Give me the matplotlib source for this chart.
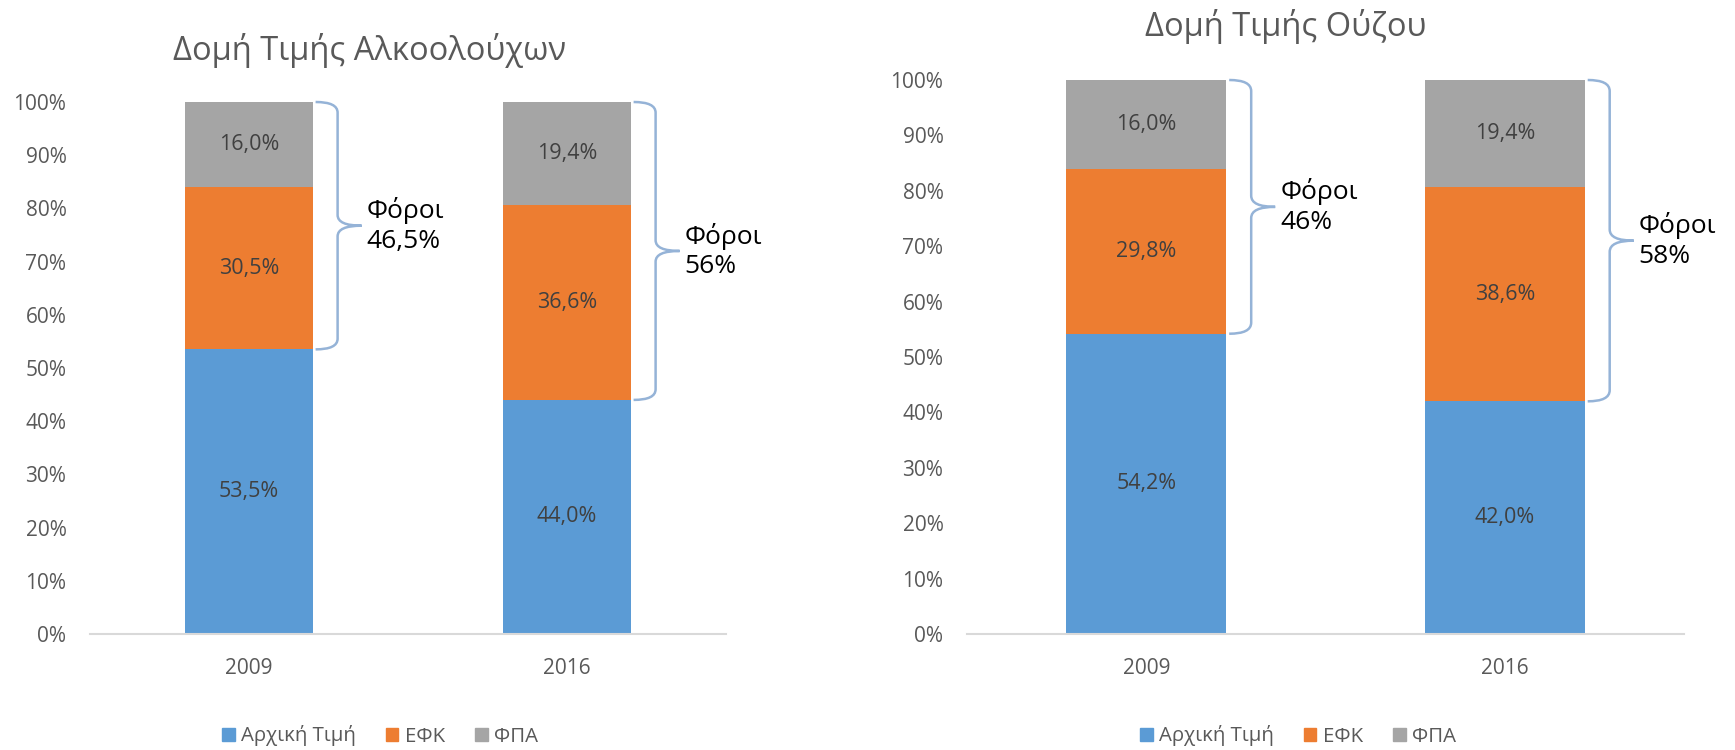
import matplotlib
matplotlib.use('Agg')
import matplotlib.pyplot as plt
from matplotlib.path import Path
from matplotlib.patches import PathPatch, Patch
from matplotlib.ticker import PercentFormatter

plt.rcParams['font.family'] = ['Open Sans', 'DejaVu Sans']

# data
years = ['2009', '2016']
series_names = ['Αρχική Τιμή', 'ΕΦΚ', 'ΦΠΑ']
colors = ['#5B9BD5', '#ED7D31', '#A5A5A5']

alc_base = [53.5, 44.0]
alc_efk = [30.5, 36.6]
alc_fpa = [16.0, 19.4]
alc_tax = ['46,5%', '56%']

ouzo_base = [54.2, 42.0]
ouzo_efk = [29.8, 38.6]
ouzo_fpa = [16.0, 19.4]
ouzo_tax = ['46%', '58%']

W, H = 1735, 750
fig = plt.figure(figsize=(W / 100, H / 100), dpi=100)

grey = '#595959'
brace_col = '#95B3D7'


def fmt(v):
    return f'{v:.1f}'.replace('.', ',') + '%'


def draw_brace(ax, xr, ytop, ybot, ppu, label):
    # xr = bar right edge in data units, ppu = pixels per x unit
    px = lambda p: p / ppu
    x0 = xr + px(3)
    x1 = x0 + px(22)
    x2 = x1 + px(24)
    ymid = (ytop + ybot) / 2
    r = 2.0
    verts = [(x0, ytop), (x1, ytop), (x1, ytop - r),
             (x1, ymid + r), (x1, ymid), (x2, ymid),
             (x1, ymid), (x1, ymid - r),
             (x1, ybot + r), (x1, ybot), (x0, ybot)]
    codes = [Path.MOVETO, Path.CURVE3, Path.CURVE3,
             Path.LINETO, Path.CURVE3, Path.CURVE3,
             Path.CURVE3, Path.CURVE3,
             Path.LINETO, Path.CURVE3, Path.CURVE3]
    ax.add_patch(PathPatch(Path(verts, codes), fill=False, ec=brace_col,
                           lw=1.8, clip_on=False))
    ax.text(x2 + px(5), ymid, 'Φόροι\n' + label, ha='left', va='center',
            fontsize=19, color='black', linespacing=1.25, clip_on=False)


def draw_chart(rect, base, efk, fpa, bar_w, taxes):
    ax = fig.add_axes(rect)
    x = range(len(years))
    ax.bar(x, base, bar_w, color=colors[0])
    ax.bar(x, efk, bar_w, bottom=base, color=colors[1])
    bottoms = [b + e for b, e in zip(base, efk)]
    ax.bar(x, fpa, bar_w, bottom=bottoms, color=colors[2])
    for i in x:
        ax.text(i, base[i] / 2, fmt(base[i]), ha='center', va='center',
                fontsize=15.5, color='#404040')
        ax.text(i, base[i] + efk[i] / 2, fmt(efk[i]), ha='center', va='center',
                fontsize=15.5, color='#404040')
        ax.text(i, bottoms[i] + fpa[i] / 2, fmt(fpa[i]), ha='center', va='center',
                fontsize=15.5, color='#404040')
    ax.set_xlim(-0.5, 1.5)
    ax.set_ylim(0, 100)
    ax.set_yticks(range(0, 101, 10))
    ax.yaxis.set_major_formatter(PercentFormatter(decimals=0))
    ax.set_xticks(list(x))
    ax.set_xticklabels(years)
    for s in ['top', 'right', 'left']:
        ax.spines[s].set_visible(False)
    ax.spines['bottom'].set_color('#D9D9D9')
    ax.spines['bottom'].set_linewidth(1.5)
    ax.tick_params(length=0, labelsize=15, labelcolor=grey)
    ax.tick_params(axis='y', pad=17)
    ax.tick_params(axis='x', pad=17)
    ppu = W * rect[2] / 2.0
    for i in x:
        draw_brace(ax, i + bar_w / 2, 100, base[i], ppu, taxes[i])
    return ax


ax1 = draw_chart([90 / W, 1 - 634 / H, 636 / W, 532 / H],
                 alc_base, alc_efk, alc_fpa, 0.40, alc_tax)
ax2 = draw_chart([967 / W, 1 - 634 / H, 717 / W, 554 / H],
                 ouzo_base, ouzo_efk, ouzo_fpa, 0.446, ouzo_tax)

fig.text(370 / W, 1 - 50 / H, 'Δομή Τιμής Αλκοολούχων', ha='center', va='center',
         fontsize=23.5, color=grey)
fig.text(1286 / W, 1 - 26 / H, 'Δομή Τιμής Ούζου', ha='center', va='center',
         fontsize=23.5, color=grey)

handles = [Patch(color=c, label=n) for c, n in zip(colors, series_names)]
for cx in [380, 1298]:
    fig.legend(handles=handles, loc='center', bbox_to_anchor=(cx / W, 1 - 736 / H),
               ncol=3, frameon=False, fontsize=14.7, labelcolor=grey,
               handlelength=0.6, handleheight=0.6, handletextpad=0.3,
               columnspacing=1.5)

fig.savefig('out.png', dpi=100)
